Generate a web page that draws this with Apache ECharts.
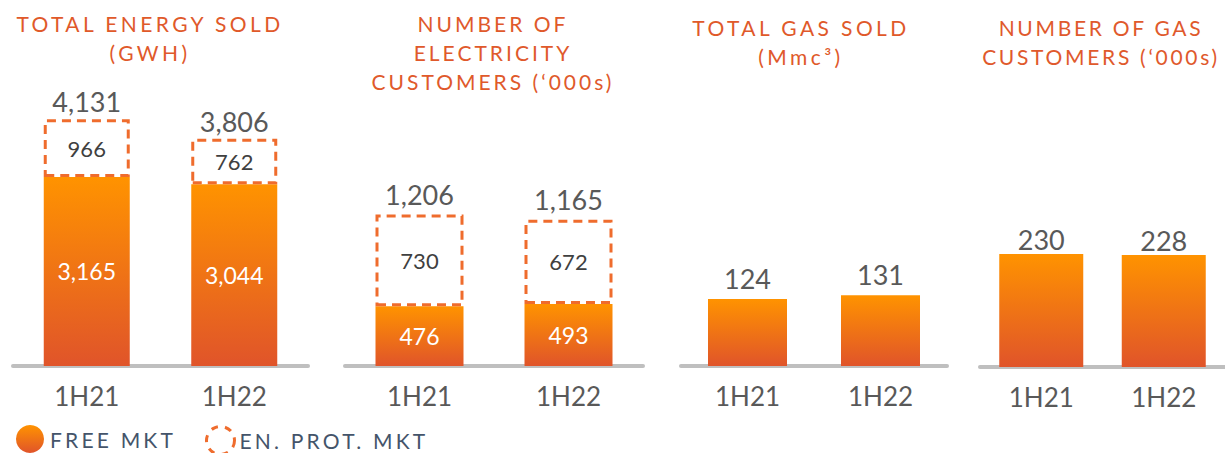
<!DOCTYPE html>
<html>
<head>
<meta charset="utf-8">
<script src="https://cdn.jsdelivr.net/npm/echarts@6/dist/echarts.min.js"></script>
<style>
html,body{margin:0;padding:0;background:#fff;}
#c{width:1225px;height:453px;}
#c svg text[fill="#E0592A" i], #c svg text[fill="rgb(224,89,42)"] { letter-spacing: 3.4px; }
#c svg text[fill="#E0592B" i], #c svg text[fill="rgb(224,89,43)"] { letter-spacing: 3.0px; }
#c svg text[fill="#E0592C" i], #c svg text[fill="rgb(224,89,44)"] { letter-spacing: 2.7px; }
#c svg text[fill="#44546A" i], #c svg text[fill="rgb(68,84,106)"] { letter-spacing: 3.2px; }
</style>
</head>
<body>
<div id="c"></div>
<script>
const categories = ['1H21', '1H22'];
const energyFree = [3165, 3044];
const energyProt = [966, 762];
const energyTotal = [4131, 3806];
const elecFree = [476, 493];
const elecProt = [730, 672];
const elecTotal = [1206, 1165];
const gasSold = [124, 131];
const gasCustomers = [230, 228];
const titles = [
  'TOTAL ENERGY SOLD\n(GWH)',
  'NUMBER OF\nELECTRICITY\nCUSTOMERS (\u2018000s)',
  'TOTAL GAS SOLD\n(Mmc\u00B3)',
  'NUMBER OF GAS\nCUSTOMERS (\u2018000s)'
];
const legendNames = ['FREE MKT', 'EN. PROT. MKT'];

const FONT = 'Lato';
const TITLE_FILLS = ['#E0592A', '#E0592B', '#E0592A', '#E0592C'];
const DASH = '#EF6C2D';
const GRAY = '#595959';
const fmt = (p) => Number(p.value).toLocaleString('en-US');
const grad = () => new echarts.graphic.LinearGradient(0, 0, 0, 1, [
  { offset: 0, color: '#FF9300' }, { offset: 1, color: '#E0542A' }
]);

const chart = echarts.init(document.getElementById('c'), null, { renderer: 'svg' });

const grids = [
  { left: 13, width: 295, top: 100, bottom: 87 },
  { left: 345, width: 298, top: 100, bottom: 87 },
  { left: 681, width: 266, top: 100, bottom: 87 },
  { left: 980, width: 256, top: 100, bottom: 86 }
];
const yMax = [4454, 2119, 491.7, 543];

const xAxes = grids.map((g, i) => ({
  type: 'category', gridIndex: i, data: categories, offset: 2,
  axisLine: { lineStyle: { color: '#BFBFBF', width: 4 } },
  axisTick: { show: false },
  axisLabel: { color: GRAY, fontSize: 26, fontFamily: FONT, margin: 15 }
}));
const yAxes = grids.map((g, i) => ({
  type: 'value', gridIndex: i, min: 0, max: yMax[i], show: false
}));

const freeLabel = { show: true, position: 'inside', color: '#fff', fontSize: 23, fontFamily: FONT, formatter: fmt };
const protLabel = { show: true, position: 'inside', color: '#404040', fontSize: 22, fontFamily: FONT, formatter: fmt };
const totLabel = (d) => ({ show: true, position: 'top', distance: d, color: GRAY, fontSize: 27, fontFamily: FONT, formatter: fmt });
const protStyle = { color: '#fff', borderColor: DASH, borderWidth: 3, borderType: [9, 6] };

const series = [
  { name: legendNames[0], type: 'bar', xAxisIndex: 0, yAxisIndex: 0, stack: 'e', barWidth: 86, data: energyFree, itemStyle: { color: grad() }, label: freeLabel },
  { name: legendNames[1], type: 'bar', xAxisIndex: 0, yAxisIndex: 0, stack: 'e', barWidth: 86, data: energyProt, itemStyle: protStyle, label: protLabel },
  { name: 'total', type: 'bar', xAxisIndex: 0, yAxisIndex: 0, barWidth: 86, barGap: '-100%', data: energyTotal, itemStyle: { color: 'rgba(0,0,0,0)' }, label: totLabel(4), z: 1 },

  { name: legendNames[0], type: 'bar', xAxisIndex: 1, yAxisIndex: 1, stack: 'c', barWidth: 88, data: elecFree, itemStyle: { color: grad() }, label: freeLabel },
  { name: legendNames[1], type: 'bar', xAxisIndex: 1, yAxisIndex: 1, stack: 'c', barWidth: 88, data: elecProt, itemStyle: protStyle, label: protLabel },
  { name: 'total', type: 'bar', xAxisIndex: 1, yAxisIndex: 1, barWidth: 88, barGap: '-100%', data: elecTotal, itemStyle: { color: 'rgba(0,0,0,0)' }, label: totLabel(7), z: 1 },

  { name: legendNames[0], type: 'bar', xAxisIndex: 2, yAxisIndex: 2, barWidth: 79, data: gasSold, itemStyle: { color: grad() }, label: totLabel(7) },
  { name: legendNames[0], type: 'bar', xAxisIndex: 3, yAxisIndex: 3, barWidth: 84, data: gasCustomers, itemStyle: { color: grad() }, label: totLabel(1) }
];

const titleCenters = [[150, 9], [493, 9], [801, 13], [1101, 13]];
const graphic = titles.map((t, i) => ({
  type: 'text', x: titleCenters[i][0], y: titleCenters[i][1],
  style: { text: t, fill: TITLE_FILLS[i], font: '21px ' + FONT, textAlign: 'center', textVerticalAlign: 'top', lineHeight: 29 }
}));

chart.setOption({
  animation: false,
  grid: grids,
  xAxis: xAxes,
  yAxis: yAxes,
  series: series,
  graphic: graphic,
  legend: [
    { left: 16, top: 425, padding: 0, selectedMode: false, itemWidth: 28, itemHeight: 28, itemGap: 6,
      data: [{ name: legendNames[0], icon: 'circle' }],
      textStyle: { color: '#44546A', fontSize: 21, fontFamily: FONT, padding: [0, 0, 0, 1] } },
    { left: 205, top: 425, padding: 0, selectedMode: false, itemWidth: 28, itemHeight: 28,
      data: [{ name: legendNames[1], icon: 'circle', itemStyle: { color: '#fff', borderColor: DASH, borderWidth: 3, borderType: [7, 7] } }],
      textStyle: { color: '#44546A', fontSize: 21, fontFamily: FONT } }
  ]
});
</script>
</body>
</html>
